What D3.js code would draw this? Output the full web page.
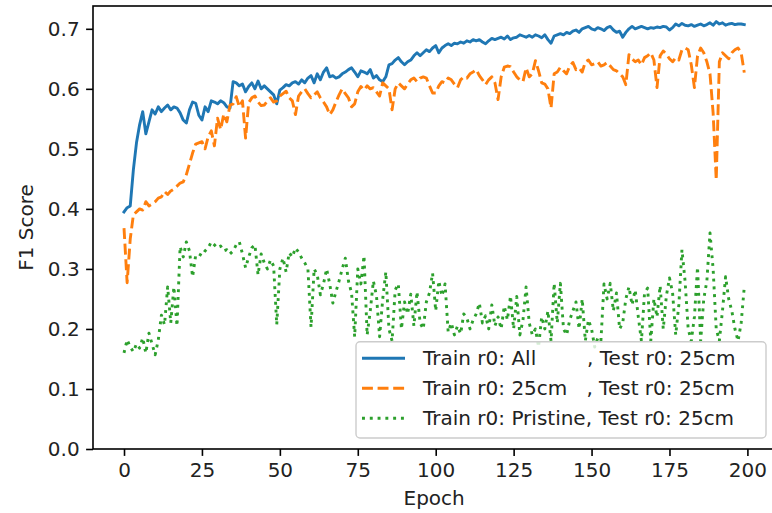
<!DOCTYPE html>
<html>
<head>
<meta charset="utf-8">
<script src="https://cdn.jsdelivr.net/npm/d3@7"></script>
<style>
  html, body { margin: 0; padding: 0; background: #fff; }
  svg { display: block; }
  text { font-family: "DejaVu Sans", sans-serif; fill: #222; }
</style>
</head>
<body>
<svg id="chart" width="772" height="513"></svg>
<script>
// ---- Data ----
const seriesNames = [
  "Train r0: All        , Test r0: 25cm",
  "Train r0: 25cm   , Test r0: 25cm",
  "Train r0: Pristine, Test r0: 25cm"
];
const xTicks = [0, 25, 50, 75, 100, 125, 150, 175, 200];
const yTicks = [0.0, 0.1, 0.2, 0.3, 0.4, 0.5, 0.6, 0.7];
const xLabel = "Epoch";
const yLabel = "F1 Score";

const trainAll = [
  0.395,0.402,0.405,0.465,0.51,0.54,0.562,0.525,0.545,0.565,
  0.558,0.57,0.562,0.568,0.573,0.565,0.57,0.568,0.56,0.548,
  0.543,0.565,0.578,0.576,0.556,0.548,0.57,0.562,0.58,0.578,
  0.575,0.58,0.577,0.57,0.568,0.612,0.61,0.605,0.608,0.595,
  0.604,0.61,0.6,0.613,0.6,0.605,0.6,0.595,0.59,0.575,
  0.598,0.602,0.607,0.605,0.61,0.612,0.608,0.615,0.61,0.618,
  0.622,0.61,0.625,0.615,0.628,0.635,0.62,0.622,0.618,0.62,
  0.625,0.628,0.632,0.635,0.628,0.62,0.63,0.628,0.625,0.632,
  0.618,0.622,0.615,0.612,0.62,0.64,0.642,0.648,0.652,0.645,
  0.64,0.645,0.648,0.655,0.66,0.655,0.66,0.665,0.662,0.668,
  0.672,0.66,0.668,0.672,0.675,0.672,0.676,0.675,0.678,0.676,
  0.68,0.678,0.682,0.68,0.682,0.678,0.675,0.68,0.684,0.682,
  0.684,0.686,0.683,0.688,0.682,0.685,0.686,0.69,0.688,0.686,
  0.689,0.686,0.69,0.688,0.685,0.69,0.682,0.676,0.688,0.69,
  0.692,0.69,0.694,0.692,0.696,0.698,0.694,0.7,0.702,0.704,
  0.7,0.698,0.702,0.7,0.697,0.702,0.704,0.698,0.694,0.696,
  0.686,0.694,0.7,0.704,0.7,0.702,0.704,0.702,0.7,0.702,
  0.701,0.703,0.702,0.704,0.703,0.698,0.702,0.708,0.705,0.709,
  0.706,0.705,0.707,0.704,0.706,0.708,0.705,0.707,0.71,0.706,
  0.712,0.708,0.71,0.706,0.708,0.709,0.707,0.708,0.708,0.707
];
const train25 = [
  0.368,0.277,0.35,0.39,0.395,0.4,0.398,0.412,0.405,0.408,
  0.412,0.418,0.42,0.429,0.424,0.43,0.433,0.438,0.443,0.445,
  0.457,0.475,0.493,0.508,0.51,0.512,0.5,0.52,0.53,0.505,
  0.551,0.532,0.558,0.545,0.573,0.575,0.587,0.57,0.58,0.518,
  0.577,0.585,0.588,0.578,0.572,0.573,0.58,0.585,0.578,0.58,
  0.588,0.592,0.596,0.585,0.58,0.557,0.588,0.595,0.6,0.592,
  0.585,0.59,0.595,0.585,0.578,0.57,0.557,0.565,0.578,0.59,
  0.6,0.592,0.585,0.57,0.575,0.595,0.604,0.598,0.605,0.6,
  0.602,0.595,0.588,0.61,0.605,0.6,0.565,0.6,0.61,0.605,
  0.6,0.608,0.615,0.618,0.612,0.618,0.62,0.618,0.605,0.593,
  0.593,0.605,0.612,0.61,0.618,0.615,0.608,0.602,0.615,0.62,
  0.618,0.625,0.628,0.632,0.622,0.615,0.607,0.615,0.62,0.61,
  0.582,0.62,0.636,0.638,0.637,0.628,0.62,0.615,0.612,0.635,
  0.62,0.625,0.647,0.63,0.61,0.608,0.6,0.568,0.625,0.628,
  0.636,0.63,0.625,0.638,0.644,0.632,0.635,0.628,0.645,0.648,
  0.64,0.642,0.645,0.638,0.64,0.644,0.638,0.632,0.63,0.625,
  0.62,0.607,0.657,0.65,0.645,0.648,0.64,0.652,0.655,0.66,
  0.648,0.602,0.655,0.663,0.658,0.65,0.645,0.652,0.648,0.665,
  0.668,0.665,0.64,0.602,0.655,0.668,0.66,0.645,0.625,0.56,
  0.448,0.645,0.66,0.655,0.65,0.66,0.665,0.668,0.66,0.627
];
const trainPristine = [
  0.16,0.182,0.17,0.162,0.175,0.168,0.185,0.16,0.193,0.175,
  0.157,0.182,0.223,0.207,0.27,0.21,0.27,0.205,0.337,0.32,
  0.345,0.33,0.287,0.323,0.325,0.322,0.33,0.335,0.345,0.34,
  0.335,0.338,0.33,0.332,0.325,0.33,0.34,0.345,0.325,0.302,
  0.32,0.335,0.34,0.29,0.325,0.31,0.3,0.315,0.305,0.207,
  0.3,0.318,0.295,0.327,0.32,0.335,0.328,0.318,0.31,0.3,
  0.203,0.3,0.29,0.257,0.275,0.3,0.275,0.243,0.262,0.28,
  0.3,0.318,0.28,0.26,0.187,0.3,0.275,0.322,0.19,0.23,
  0.28,0.255,0.187,0.25,0.295,0.2,0.18,0.265,0.275,0.2,
  0.245,0.225,0.258,0.205,0.262,0.21,0.2,0.245,0.26,0.293,
  0.23,0.28,0.255,0.275,0.195,0.21,0.19,0.205,0.192,0.225,
  0.218,0.2,0.215,0.225,0.243,0.21,0.222,0.2,0.24,0.205,
  0.22,0.2,0.238,0.215,0.255,0.2,0.254,0.19,0.215,0.27,
  0.21,0.19,0.2,0.17,0.22,0.2,0.23,0.18,0.276,0.21,
  0.276,0.2,0.19,0.215,0.23,0.245,0.2,0.25,0.18,0.215,
  0.2,0.17,0.185,0.18,0.275,0.25,0.276,0.23,0.26,0.2,
  0.21,0.25,0.27,0.24,0.265,0.22,0.18,0.26,0.268,0.18,
  0.25,0.22,0.272,0.2,0.255,0.285,0.26,0.19,0.24,0.332,
  0.28,0.2,0.18,0.22,0.303,0.18,0.25,0.28,0.36,0.3,
  0.2,0.18,0.23,0.287,0.25,0.23,0.2,0.18,0.21,0.27
];
const seriesValues = [trainAll, train25, trainPristine];
const seriesColors = ["#1f77b4", "#ff7f0e", "#2ca02c"];
const seriesDash = [null, "10.9,4.7", "2.94,4.85"];

// ---- Layout ----
const svg = d3.select("#chart");
const FS = 20;
const LW = 2.9;
const x = d3.scaleLinear().domain([-9.95, 208.95]).range([93, 775.3]);
const y = d3.scaleLinear().domain([0, 0.738]).range([449, 6]);

// lines
const line = d3.line().x((d, i) => x(i)).y(d => y(d));
const plot = svg.append("g");
seriesValues.forEach((vals, k) => {
  const p = plot.append("path")
    .datum(vals)
    .attr("d", line)
    .attr("fill", "none")
    .attr("stroke", seriesColors[k])
    .attr("stroke-width", LW)
    .attr("stroke-linejoin", "round")
    .attr("stroke-linecap", k === 0 ? "square" : "butt");
  if (seriesDash[k]) p.attr("stroke-dasharray", seriesDash[k]);
});

// axes
const xAxis = d3.axisBottom(x).tickValues(xTicks).tickSize(6.9).tickPadding(6.5)
  .tickFormat(d3.format("d"));
const yAxis = d3.axisLeft(y).tickValues(yTicks).tickSize(6.9).tickPadding(6.5)
  .tickFormat(d3.format(".1f"));

const gx = svg.append("g").attr("transform", "translate(0,449)").call(xAxis);
const gy = svg.append("g").attr("transform", "translate(93,0)").call(yAxis);
[gx, gy].forEach(g => {
  g.select(".domain").remove();
  g.selectAll(".tick line").attr("stroke", "#000").attr("stroke-width", 1.6);
  g.selectAll(".tick text").attr("font-size", FS).attr("fill", "#222")
    .attr("font-family", "DejaVu Sans, sans-serif");
});

// spines
const spines = svg.append("g").attr("stroke", "#000").attr("stroke-width", 1.6).attr("fill", "none");
spines.append("rect").attr("x", 93).attr("y", 6).attr("width", 775.3 - 93).attr("height", 449 - 6);

// axis labels
svg.append("text").attr("x", (93 + 775.3) / 2).attr("y", 505)
  .attr("text-anchor", "middle").attr("font-size", FS).text(xLabel);
svg.append("text").attr("transform", "translate(33," + ((6 + 449) / 2) + ") rotate(-90)")
  .attr("text-anchor", "middle").attr("font-size", FS).text(yLabel);

// legend
const leg = svg.append("g");
leg.append("rect").attr("x", 356).attr("y", 341.7).attr("width", 410).attr("height", 96.3)
  .attr("rx", 4).attr("ry", 4)
  .attr("fill", "#fff").attr("fill-opacity", 0.8)
  .attr("stroke", "#cccccc").attr("stroke-width", 1.4);
seriesNames.forEach((name, k) => {
  const cy = 358.3 + k * 30;
  const h = leg.append("line").attr("x1", 362).attr("x2", 405).attr("y1", cy).attr("y2", cy)
    .attr("stroke", seriesColors[k]).attr("stroke-width", LW);
  if (seriesDash[k]) h.attr("stroke-dasharray", seriesDash[k]);
  leg.append("text").attr("x", 423).attr("y", cy + 7)
    .attr("font-size", FS).style("white-space", "pre").text(name);
});
</script>
</body>
</html>
